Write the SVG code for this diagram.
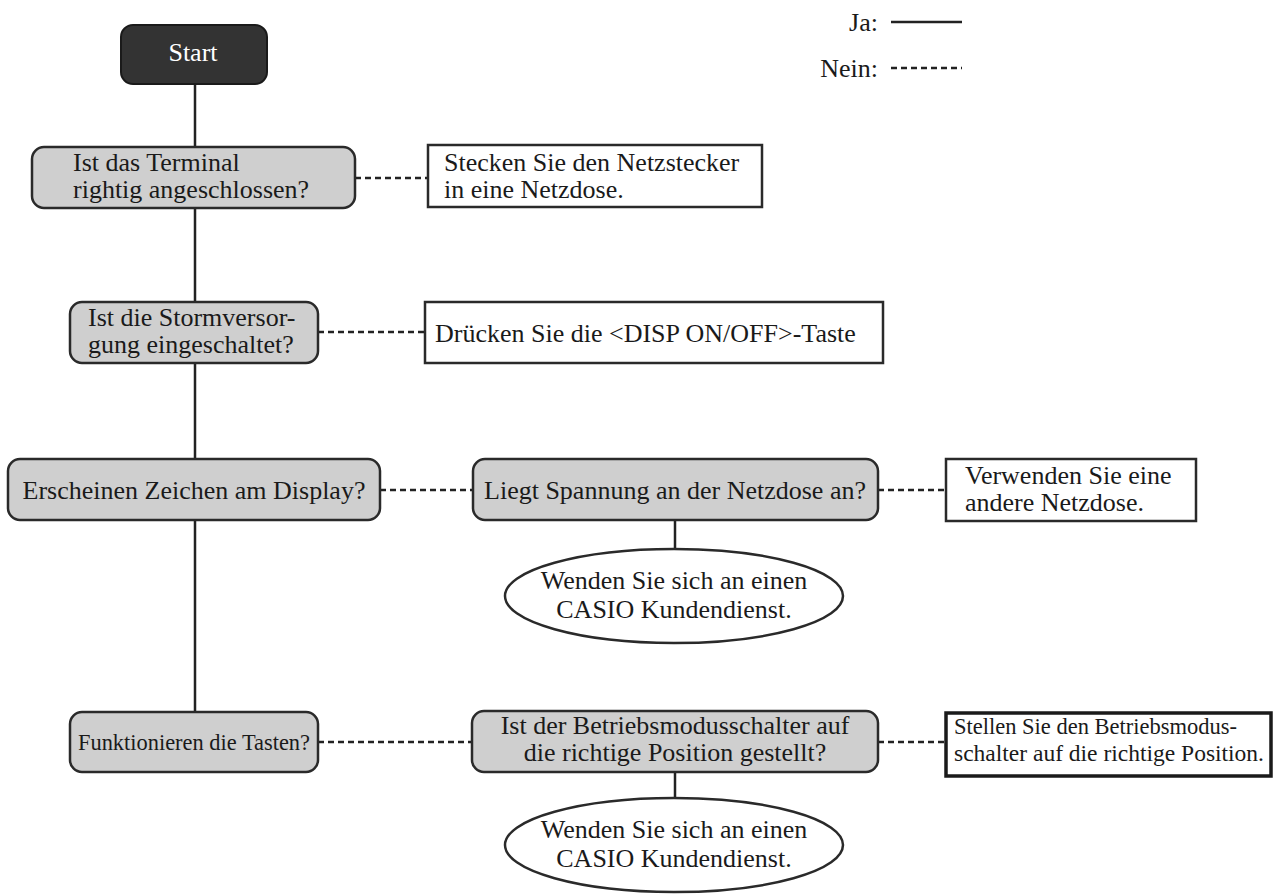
<svg xmlns="http://www.w3.org/2000/svg" width="1276" height="895" viewBox="0 0 1276 895">
<style>
text{font-family:"Liberation Serif","Times New Roman",serif;fill:#1a1a1a;font-size:26px}
.q{fill:#cfcfcf;stroke:#2a2a2a;stroke-width:2.5}
.b{fill:#fff;stroke:#2a2a2a;stroke-width:2.5}
.yes{stroke:#222;stroke-width:2.5;fill:none}
.no{stroke:#222;stroke-width:2.5;fill:none;stroke-dasharray:6 4}
.c{text-anchor:middle}
.n{font-size:24px}
</style>
<rect width="1276" height="895" fill="#fff"/>
<g id="connectors">
<line class="yes" x1="195" y1="84" x2="195" y2="712"/>
<line class="yes" x1="675" y1="520" x2="675" y2="549"/>
<line class="yes" x1="675" y1="772" x2="675" y2="799"/>
<line class="no" x1="355" y1="178" x2="428" y2="178"/>
<line class="no" x1="318" y1="332" x2="425" y2="332"/>
<line class="no" x1="380" y1="490" x2="473" y2="490"/>
<line class="no" x1="878" y1="490" x2="946" y2="490"/>
<line class="no" x1="318" y1="742" x2="472" y2="742"/>
<line class="no" x1="878" y1="742" x2="946" y2="742"/>
</g>
<g id="legend">
<text x="878" y="31" text-anchor="end">Ja:</text>
<line class="yes" x1="891" y1="22" x2="962" y2="22"/>
<text x="878" y="77" text-anchor="end">Nein:</text>
<line class="no" x1="891" y1="68" x2="962" y2="68" stroke-dasharray="5 3.5"/>
</g>
<g id="start">
<rect x="121" y="25" width="146" height="59" rx="12" fill="#333" stroke="#1a1a1a" stroke-width="2"/>
<text x="193" y="61" class="c" style="fill:#fff">Start</text>
</g>
<g id="q1">
<rect class="q" x="32" y="147" width="323" height="61" rx="12"/>
<text x="73" y="171">Ist das Terminal</text>
<text x="73" y="198">rightig angeschlossen?</text>
</g>
<g id="a1">
<rect class="b" x="428" y="145" width="334" height="62"/>
<text x="444" y="171">Stecken Sie den Netzstecker</text>
<text x="444" y="198">in eine Netzdose.</text>
</g>
<g id="q2">
<rect class="q" x="70" y="302" width="248" height="61" rx="12"/>
<text x="88" y="326">Ist die Stormversor-</text>
<text x="88" y="353">gung eingeschaltet?</text>
</g>
<g id="a2">
<rect class="b" x="425" y="302" width="458" height="61"/>
<text x="435" y="342">Drücken Sie die &lt;DISP ON/OFF&gt;-Taste</text>
</g>
<g id="q3">
<rect class="q" x="8" y="459" width="372" height="61" rx="12"/>
<text x="194" y="499" class="c">Erscheinen Zeichen am Display?</text>
</g>
<g id="q4">
<rect class="q" x="473" y="459" width="405" height="61" rx="12"/>
<text x="675" y="499" class="c">Liegt Spannung an der Netzdose an?</text>
</g>
<g id="a4">
<rect class="b" x="946" y="459" width="250" height="62"/>
<text x="965" y="484">Verwenden Sie eine</text>
<text x="965" y="511">andere Netzdose.</text>
</g>
<g id="e1">
<ellipse class="b" cx="674" cy="596" rx="169" ry="47"/>
<text x="674" y="589" class="c">Wenden Sie sich an einen</text>
<text x="674" y="618" class="c">CASIO Kundendienst.</text>
</g>
<g id="q5">
<rect class="q" x="70" y="712" width="248" height="60" rx="12"/>
<text x="194" y="750" class="c n" textLength="232" lengthAdjust="spacingAndGlyphs">Funktionieren die Tasten?</text>
</g>
<g id="q6">
<rect class="q" x="472" y="711" width="406" height="61" rx="12"/>
<text x="675" y="734" class="c">Ist der Betriebsmodusschalter auf</text>
<text x="675" y="761" class="c">die richtige Position gestellt?</text>
</g>
<g id="a6">
<rect x="946" y="713" width="325" height="63" fill="#fff" stroke="#1a1a1a" stroke-width="3.5"/>
<text x="954" y="734" class="n" textLength="283" lengthAdjust="spacingAndGlyphs">Stellen Sie den Betriebsmodus-</text>
<text x="954" y="761" class="n" textLength="310" lengthAdjust="spacingAndGlyphs">schalter auf die richtige Position.</text>
</g>
<g id="e2">
<ellipse class="b" cx="674" cy="845" rx="169" ry="47"/>
<text x="674" y="838" class="c">Wenden Sie sich an einen</text>
<text x="674" y="867" class="c">CASIO Kundendienst.</text>
</g>
</svg>
